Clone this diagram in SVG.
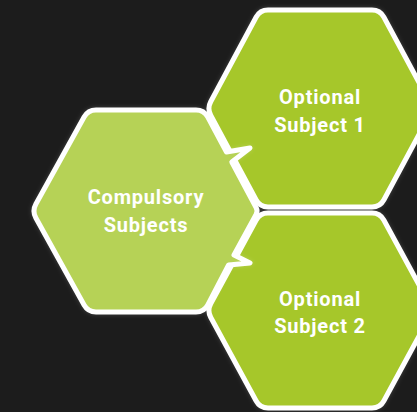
<svg xmlns="http://www.w3.org/2000/svg" width="417" height="412" viewBox="0 0 417 412">
  <defs>
    <filter id="glow" x="-10%" y="-10%" width="120%" height="120%">
      <feDropShadow dx="0" dy="0" stdDeviation="2" flood-color="#ffffff" flood-opacity="0.18"/>
    </filter>
  </defs>
  <style>
    .hex { stroke: #ffffff; stroke-width: 5; stroke-linejoin: round; filter: url(#glow); }
    .opt { fill: #a6c72b; }
    .comp { fill: #b6d257; }
    .lbl { font-family: Roboto, "Liberation Sans", sans-serif; font-weight: bold; font-size: 20px; fill: #ffffff; text-anchor: middle; letter-spacing: 0.8px; }
  </style>
  <rect x="0" y="0" width="417" height="412" fill="#1c1c1c"/>
  <g id="connectors"></g>
  <g id="optional1">
    <path class="hex opt" d="M 210.8,101.5 L 256.2,17 Q 260,10 268,10 L 372,10 Q 380,10 383.8,17 L 429.2,101.5 Q 433,108.5 429.2,115.5 L 383.8,200 Q 380,207 372,207 L 268,207 Q 260,207 256.2,200 L 210.8,115.5 Q 207,108.5 210.8,101.5 Z"/>
    <text class="lbl" x="320" y="104">Optional</text>
    <text class="lbl" x="320" y="132">Subject 1</text>
  </g>
  <g id="optional2">
    <path class="hex opt" d="M 210.8,303.5 L 256.2,220 Q 260,213 268,213 L 372,213 Q 380,213 383.8,220 L 429.2,303.5 Q 433,310.5 429.2,317.5 L 383.8,401 Q 380,408 372,408 L 268,408 Q 260,408 256.2,401 L 210.8,317.5 Q 207,310.5 210.8,303.5 Z"/>
    <text class="lbl" x="320" y="306">Optional</text>
    <text class="lbl" x="320" y="333">Subject 2</text>
  </g>
  <g id="compulsory">
    <path class="hex comp" d="M 35.9,204 L 84.1,117 Q 88,110 96,110 L 196,110 Q 204,110 207.8,117.1 L 226.5,152 L 250,148 L 231.8,162 L 256.1,207.5 Q 258,211 256.1,214.5 L 234,255 L 250,263 L 228.6,265 L 207.8,304.9 Q 204,312 196,312 L 96,312 Q 88,312 84.1,305 L 35.9,218 Q 32,211 35.9,204 Z"/>
    <text class="lbl" x="146" y="204">Compulsory</text>
    <text class="lbl" x="146" y="232">Subjects</text>
  </g>
</svg>
